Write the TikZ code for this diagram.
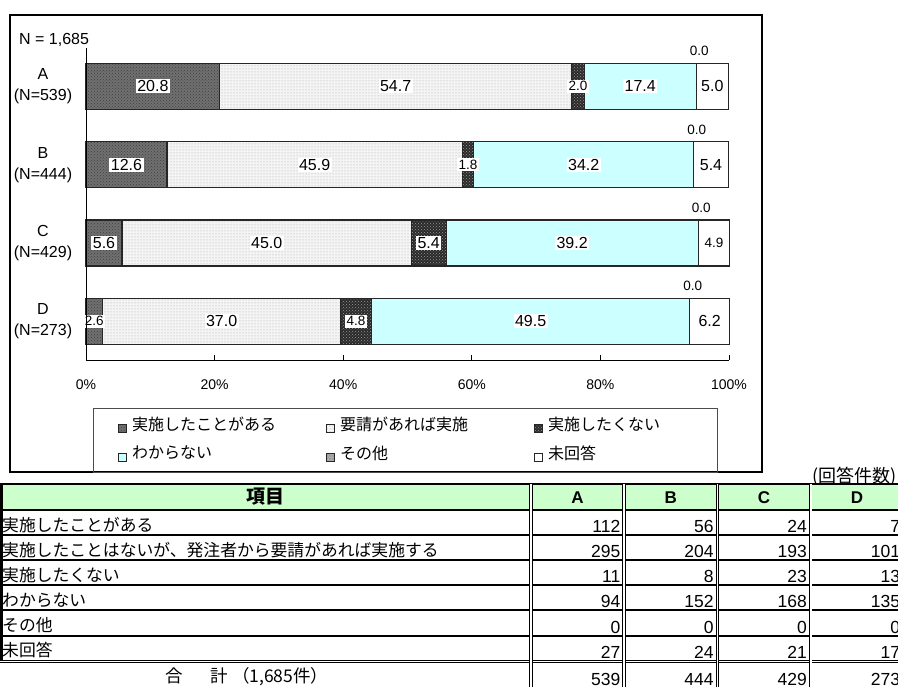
\documentclass[tikz,border=0pt]{standalone}
\usepackage{fontspec}
\setmainfont{Liberation Sans}
\newfontfamily\jp{Noto Sans CJK JP}
\usepackage{tikz}
\usetikzlibrary{patterns}
\definecolor{chk}{HTML}{707070}
\definecolor{dotbg}{HTML}{F4F4F4}
\definecolor{dark}{HTML}{2A2A2A}
\definecolor{aqua}{HTML}{CCFFFF}
\definecolor{other}{HTML}{A8A8A8}
\definecolor{head}{HTML}{CCFFCC}
\newcommand{\fsz}[1]{\fontsize{#1pt}{#1pt}\selectfont}

\begin{document}
\begin{tikzpicture}[x=1pt, y=-1pt,
  bar/.style={draw=black!85, line width=1.1pt},
  seg1/.style={bar, preaction={fill=chk}, pattern=crosshatch dots, pattern color=black!75},
  seg2/.style={bar, preaction={fill=dotbg}, pattern=dots, pattern color=gray!70},
  seg3/.style={bar, preaction={fill=dark}, pattern=crosshatch dots, pattern color=gray!80},
  seg4/.style={bar, fill=aqua},
  seg5/.style={bar, preaction={fill=other}, pattern=dots, pattern color=black!60},
  seg6/.style={bar, fill=white},
  lab/.style={fill=white, inner sep=1.5pt},
  cat/.style={align=center, font=\fontsize{16pt}{21pt}\selectfont, inner sep=0pt},
  legtext/.style={anchor=west, font=\jp\fsz{16}, inner sep=0pt},
  rowtext/.style={anchor=base west, font=\jp\fsz{16.8}, inner sep=0pt},
  num/.style={anchor=base east, font=\fsz{17.5}, inner sep=0pt},
  dbl/.style={line width=0.9pt, double, double distance=1.6pt}]
\clip (0,0) rectangle (898,687);

% chart frame
\draw[line width=1.2pt] (10,15) rectangle (762,472);
\node[anchor=west, font=\fsz{16}, inner sep=0pt] (total) at (19,40) {N = 1,685};

% bars
\foreach \nm/\n/\yc/\vals in {A/539/86.3/{20.8,54.7,2.0,17.4,0.0,5.0},
    B/444/164.7/{12.6,45.9,1.8,34.2,0.0,5.4},
    C/429/243/{5.6,45.0,5.4,39.2,0.0,4.9},
    D/273/321.3/{2.6,37.0,4.8,49.5,0.0,6.2}}
{
  \pgfmathsetmacro\yt{\yc-23}
  \pgfmathsetmacro\yb{\yc+23}
  \node[cat] (cat\nm) at (43,\yc) {\nm\\(N=\n)};
  \gdef\xs{86}
  \foreach \v [count=\i] in \vals {
    \pgfmathsetmacro\xe{\xs+6.43*\v}
    \path[seg\i] (\xs,\yt) rectangle (\xe,\yb);
    \global\let\xs\xe
  }
  % values
  \gdef\xs{86}
  \foreach \v [count=\i] in \vals {
    \pgfmathsetmacro\xe{\xs+6.43*\v}
    \pgfmathsetmacro\xm{(\xs+\xe)/2}
    \ifnum\i=5
      \node[font=\fsz{13.5}, inner sep=0pt] (v\nm\i) at (\xs+3,\yt-12) {\v};
    \else
      \pgfmathparse{\v<5 ? 13.5 : 16}\let\fs\pgfmathresult
      \node[lab, font=\fsz{\fs}] (v\nm\i) at (\xm,\yc) {\v};
    \fi
    \global\let\xs\xe
  }
}

% axes
\draw[line width=0.8pt] (86,48) -- (86,360) -- (729,360);
\foreach \p in {0,20,...,100} {
  \draw[line width=0.8pt] (86+6.43*\p,355) -- (86+6.43*\p,360);
  \node[font=\fsz{14}] (tick\p) at (86+6.43*\p,385) {\p\%};
}

% legend
\draw[draw=black!70, line width=0.9pt] (93,408) rectangle (717,472);
\foreach \i/\x/\y/\t in {1/118/424/実施したことがある, 2/326/424/要請があれば実施, 3/534/424/実施したくない,
    4/118/453/わからない, 5/326/453/その他, 6/534/453/未回答}
{
  \path[seg\i, line width=0.7pt] (\x,\y+0.5) rectangle +(8,8);
  \node[legtext] (leg\i) at (\x+14,\y) {\t};
}

% table
\node[anchor=west, font=\jp\fsz{18}, inner sep=0pt] (unit) at (812,477) {(回答件数)};
\fill[head] (0,484) rectangle (898,510);
\draw[line width=2pt] (0,484) -- (898,484);
\foreach \yy in {510,535.1,560.2,585.3,610.4,635.5}
  \draw[line width=2pt] (0,\yy) -- (898,\yy);
\draw[dbl] (0,661.5) -- (898,661.5);
\draw[line width=2.5pt] (1.25,484) -- (1.25,660.5);
\foreach \xx in {531,624,717.5,810.7}
  \draw[dbl] (\xx,484) -- (\xx,687);

\node[font=\jp\bfseries\fsz{19}] (item) at (265,497) {項目};
\foreach \h/\xx in {A/577.5,B/670.7,C/764,D/857}
  \node[font=\bfseries\fsz{17}] (h\h) at (\xx,497.5) {\h};

\foreach \t/\a/\b/\c/\d [count=\r] in {実施したことがある/112/56/24/7,
    実施したことはないが、発注者から要請があれば実施する/295/204/193/101,
    実施したくない/11/8/23/13, わからない/94/152/168/135,
    その他/0/0/0/0, 未回答/27/24/21/17}
{
  \pgfmathsetmacro\yy{510+25.1*\r}
  \node[rowtext] (row\r) at (2,\yy-4) {\t};
  \node[num] (a\r) at (620.5,\yy-2.5) {\a};
  \node[num] (b\r) at (713.8,\yy-2.5) {\b};
  \node[num] (c\r) at (807,\yy-2.5) {\c};
  \node[num] (d\r) at (900.3,\yy-2.5) {\d};
}

% total row
\node[anchor=west, font=\jp\fsz{17.5}, inner sep=0pt] (sum) at (165,677) {合\hspace{28pt}計\hspace{4pt}（1,685件）};
\node[num] (asum) at (620.5,685) {539};
\node[num] (bsum) at (713.8,685) {444};
\node[num] (csum) at (807,685) {429};
\node[num] (dsum) at (900.3,685) {273};
\end{tikzpicture}
\end{document}
